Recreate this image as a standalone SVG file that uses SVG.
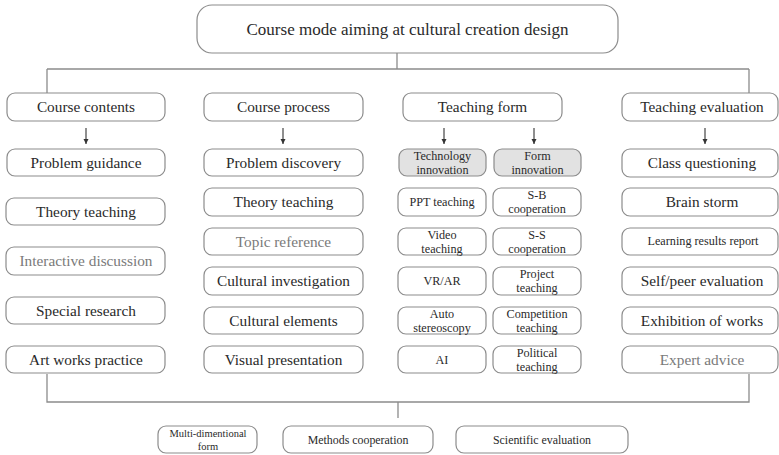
<svg xmlns="http://www.w3.org/2000/svg" width="779" height="455" viewBox="0 0 779 455">
<defs>
<marker id="ah" viewBox="0 0 6 6" refX="6" refY="3" markerWidth="5" markerHeight="6" orient="auto" markerUnits="userSpaceOnUse">
<path d="M0,0 L6,3 L0,6 z" fill="#333"/>
</marker>
</defs>
<style>
.bx{fill:#fff;stroke:#8c8c8c;stroke-width:1.2}
.gb{fill:#e2e2e2;stroke:#8c8c8c;stroke-width:1.2}
text{font-family:'Liberation Serif','Times New Roman',serif;fill:#2a2a2a;text-anchor:middle}
.t1{font-size:17px}
.t2{font-size:15.3px}
.t3{font-size:12.2px}
.t4{font-size:11.9px}
.t5{font-size:10.5px}
.lt{fill:#7a7a7a}
.cn{fill:none;stroke:#8c8c8c;stroke-width:1.3}
.ar{fill:none;stroke:#333;stroke-width:1.1}
</style>
<rect width="779" height="455" fill="#fff"/>

<g id="connectors">
<path class="cn" d="M397,53 V69 M47,69 H749 M47,69 V93 M749,69 V93"/>
<path class="cn" d="M47,374 V402 H749 V374 M398,402 V418"/>
<line class="ar" x1="86" y1="128" x2="86" y2="144" marker-end="url(#ah)"/>
<line class="ar" x1="283" y1="128" x2="283" y2="144" marker-end="url(#ah)"/>
<line class="ar" x1="444" y1="128" x2="444" y2="144" marker-end="url(#ah)"/>
<line class="ar" x1="534" y1="128" x2="534" y2="144" marker-end="url(#ah)"/>
<line class="ar" x1="705" y1="128" x2="705" y2="144" marker-end="url(#ah)"/>
</g>

<g id="nodes">
<g id="root"><rect class="bx" x="197" y="5" width="421" height="48" rx="15"/><text class="t1" x="407.5" y="35">Course mode aiming at cultural creation design</text></g>

<g id="course-contents"><rect class="bx" x="7" y="93" width="158" height="28" rx="8"/><text class="t2" x="86" y="112">Course contents</text></g>
<g id="course-process"><rect class="bx" x="204" y="93" width="159" height="28" rx="8"/><text class="t2" x="283.5" y="112">Course process</text></g>
<g id="teaching-form"><rect class="bx" x="403" y="93" width="159" height="28" rx="8"/><text class="t2" x="482.5" y="112">Teaching form</text></g>
<g id="teaching-evaluation"><rect class="bx" x="622" y="93" width="156" height="28" rx="8"/><text class="t2" x="702" y="112">Teaching evaluation</text></g>

<g id="problem-guidance"><rect class="bx" x="7" y="149" width="158" height="27" rx="8"/><text class="t2" x="86" y="168">Problem guidance</text></g>
<g id="theory-teaching-1"><rect class="bx" x="6" y="198" width="159" height="27" rx="8"/><text class="t2" x="86" y="217">Theory teaching</text></g>
<g id="interactive-discussion"><rect class="bx" x="6" y="247" width="159" height="28" rx="8"/><text class="t2 lt" x="86" y="266">Interactive discussion</text></g>
<g id="special-research"><rect class="bx" x="6" y="297" width="159" height="27" rx="8"/><text class="t2" x="86" y="316">Special research</text></g>
<g id="art-works-practice"><rect class="bx" x="6" y="346" width="159" height="27" rx="8"/><text class="t2" x="86" y="365">Art works practice</text></g>

<g id="problem-discovery"><rect class="bx" x="204" y="149" width="159" height="27" rx="8"/><text class="t2" x="283.5" y="168">Problem discovery</text></g>
<g id="theory-teaching-2"><rect class="bx" x="204" y="188" width="159" height="28" rx="8"/><text class="t2" x="283.5" y="207">Theory teaching</text></g>
<g id="topic-reference"><rect class="bx" x="204" y="228" width="159" height="27" rx="8"/><text class="t2 lt" x="283.5" y="247">Topic reference</text></g>
<g id="cultural-investigation"><rect class="bx" x="204" y="267" width="159" height="28" rx="8"/><text class="t2" x="283.5" y="286">Cultural investigation</text></g>
<g id="cultural-elements"><rect class="bx" x="204" y="307" width="159" height="27" rx="8"/><text class="t2" x="283.5" y="326">Cultural elements</text></g>
<g id="visual-presentation"><rect class="bx" x="204" y="346" width="159" height="27" rx="8"/><text class="t2" x="283.5" y="365">Visual presentation</text></g>

<g id="technology-innovation"><rect class="gb" x="399" y="149" width="87" height="27" rx="8"/><text class="t3" x="442.5" y="160">Technology</text><text class="t3" x="442.5" y="174">innovation</text></g>
<g id="form-innovation"><rect class="gb" x="494" y="149" width="87" height="27" rx="8"/><text class="t3" x="537.5" y="160">Form</text><text class="t3" x="537.5" y="174">innovation</text></g>
<g id="ppt-teaching"><rect class="bx" x="398" y="188" width="88" height="28" rx="8"/><text class="t3" x="442" y="206">PPT teaching</text></g>
<g id="sb-cooperation"><rect class="bx" x="493" y="188" width="88" height="28" rx="8"/><text class="t3" x="537" y="199">S-B</text><text class="t3" x="537" y="213">cooperation</text></g>
<g id="video-teaching"><rect class="bx" x="398" y="228" width="88" height="27" rx="8"/><text class="t3" x="442" y="239">Video</text><text class="t3" x="442" y="253">teaching</text></g>
<g id="ss-cooperation"><rect class="bx" x="493" y="228" width="88" height="27" rx="8"/><text class="t3" x="537" y="239">S-S</text><text class="t3" x="537" y="253">cooperation</text></g>
<g id="vr-ar"><rect class="bx" x="398" y="267" width="88" height="28" rx="8"/><text class="t3" x="442" y="285">VR/AR</text></g>
<g id="project-teaching"><rect class="bx" x="493" y="267" width="88" height="28" rx="8"/><text class="t3" x="537" y="278">Project</text><text class="t3" x="537" y="292">teaching</text></g>
<g id="auto-stereoscopy"><rect class="bx" x="398" y="307" width="88" height="27" rx="8"/><text class="t3" x="442" y="318">Auto</text><text class="t3" x="442" y="332">stereoscopy</text></g>
<g id="competition-teaching"><rect class="bx" x="493" y="307" width="88" height="27" rx="8"/><text class="t3" x="537" y="318">Competition</text><text class="t3" x="537" y="332">teaching</text></g>
<g id="ai"><rect class="bx" x="398" y="346" width="88" height="27" rx="8"/><text class="t3" x="442" y="364">AI</text></g>
<g id="political-teaching"><rect class="bx" x="493" y="346" width="88" height="27" rx="8"/><text class="t3" x="537" y="357">Political</text><text class="t3" x="537" y="371">teaching</text></g>

<g id="class-questioning"><rect class="bx" x="622" y="149" width="156" height="28" rx="8"/><text class="t2" x="702" y="168">Class questioning</text></g>
<g id="brain-storm"><rect class="bx" x="622" y="188" width="156" height="28" rx="8"/><text class="t2" x="702" y="207">Brain storm</text></g>
<g id="learning-results-report"><rect class="bx" x="622" y="228" width="156" height="27" rx="8"/><text class="t3" x="703" y="245">Learning results report</text></g>
<g id="self-peer-evaluation"><rect class="bx" x="622" y="267" width="156" height="28" rx="8"/><text class="t2" x="702" y="286">Self/peer evaluation</text></g>
<g id="exhibition-of-works"><rect class="bx" x="622" y="307" width="156" height="27" rx="8"/><text class="t2" x="702" y="326">Exhibition of works</text></g>
<g id="expert-advice"><rect class="bx" x="622" y="346" width="156" height="27" rx="8"/><text class="t2 lt" x="702" y="365">Expert advice</text></g>

<g id="multi-dimentional-form"><rect class="bx" x="158" y="426" width="99" height="27" rx="8"/><text class="t5" x="208" y="437">Multi-dimentional</text><text class="t5" x="208" y="450">form</text></g>
<g id="methods-cooperation"><rect class="bx" x="283" y="426" width="150" height="27" rx="8"/><text class="t4" x="358" y="444">Methods cooperation</text></g>
<g id="scientific-evaluation"><rect class="bx" x="456" y="426" width="172" height="27" rx="8"/><text class="t4" x="542" y="444">Scientific evaluation</text></g>
</g>
</svg>
